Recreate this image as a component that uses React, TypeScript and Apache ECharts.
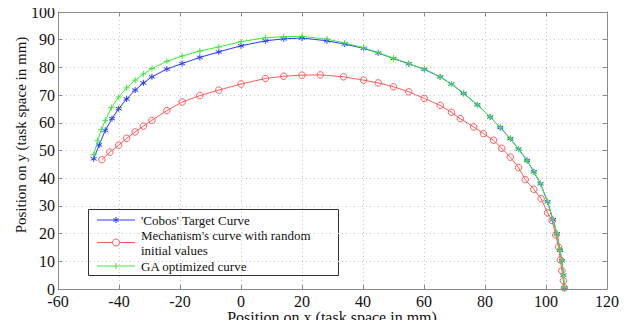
import React, { useEffect, useRef } from "react";
import * as echarts from "echarts";

const xTicks = { min: -60, max: 120, interval: 20 };
const yTicks = { min: 0, max: 100, interval: 10 };

const seriesNames = [
  "'Cobos' Target Curve",
  "Mechanism's curve with random",
  "GA optimized curve",
];

const targetCurve: [number, number][] = [
  [-48.3, 47.0], [-46.5, 52.0], [-44.5, 57.3], [-42.3, 61.5], [-40.1, 65.1],
  [-37.5, 68.6], [-34.7, 71.8], [-32.0, 74.4], [-29.2, 76.6], [-24.3, 79.4],
  [-19.3, 81.4], [-13.5, 83.6], [-7.3, 85.6], [0.0, 87.8], [8.0, 89.6],
  [14.0, 90.3], [20.0, 90.6], [28.2, 89.6], [34.0, 88.4], [40.2, 86.9],
  [45.0, 85.2], [50.0, 83.2], [55.0, 81.3], [60.1, 79.3], [65.3, 76.6],
  [69.0, 74.0], [73.0, 70.6], [77.5, 66.5], [81.7, 62.1], [85.0, 58.3],
  [88.3, 54.3], [91.0, 50.5], [93.8, 46.4], [96.0, 42.3], [98.2, 38.0],
  [100.5, 31.5], [102.3, 25.0], [103.6, 19.9], [104.6, 14.0], [105.2, 10.2],
  [105.7, 5.0], [106.0, 0.4],
];

const randomCurve: [number, number][] = [
  [-45.6, 46.7], [-43.0, 49.4], [-40.1, 51.9], [-37.5, 54.4], [-34.7, 56.7],
  [-32.0, 58.8], [-29.2, 60.9], [-24.3, 64.4], [-19.3, 67.5], [-13.5, 69.8],
  [-7.3, 71.8], [0.0, 74.0], [8.0, 76.0], [14.0, 76.8], [20.0, 77.2],
  [26.0, 77.3], [33.6, 76.6], [40.2, 75.4], [45.0, 74.4], [50.0, 73.0],
  [55.0, 71.2], [60.1, 68.8], [65.3, 66.3], [69.0, 63.8], [71.9, 61.5],
  [76.3, 58.5], [79.5, 56.1], [82.8, 53.7], [85.5, 50.8], [88.3, 47.6],
  [91.0, 43.8], [93.2, 39.5], [96.0, 36.0], [98.4, 32.6], [100.5, 27.5],
  [102.0, 24.7], [103.2, 19.5], [104.1, 15.1], [104.7, 10.5], [105.2, 6.6],
  [105.7, 3.0], [106.0, 0.4],
];

const gaCurve: [number, number][] = [
  [-48.3, 48.5], [-47.0, 53.5], [-45.8, 57.5], [-44.5, 60.9], [-42.5, 65.5],
  [-40.1, 69.3], [-37.5, 72.6], [-34.7, 75.4], [-32.0, 77.6], [-29.2, 79.6],
  [-24.3, 82.2], [-19.3, 84.1], [-13.5, 85.9], [-7.3, 87.4], [0.0, 89.3],
  [8.0, 90.7], [14.0, 91.1], [20.0, 91.2], [28.2, 90.2], [34.0, 88.8],
  [40.2, 87.1], [45.0, 85.3], [50.0, 83.3], [55.0, 81.3], [60.1, 79.3],
  [65.3, 76.6], [69.0, 74.0], [73.0, 70.6], [77.5, 66.5], [81.7, 62.1],
  [85.0, 58.3], [88.3, 54.3], [91.0, 50.5], [93.8, 46.4], [96.0, 42.3],
  [98.2, 38.0], [100.5, 31.5], [102.3, 25.0], [103.6, 19.9], [104.6, 14.0],
  [105.2, 10.2], [105.7, 5.0], [106.0, 0.4],
];

const BLUE = "#2a3cff";
const RED = "#ff5a5a";
const GREEN = "#3ee83e";
const FONT = "'Liberation Serif', 'Times New Roman', serif";

const STAR = "path://M0,-10L0,10M-8.66,-5L8.66,5M-8.66,5L8.66,-5";
const PLUS = "path://M0,-10L0,10M-10,0L10,0";

export default function App() {
  const ref = useRef<HTMLDivElement>(null);
  useEffect(() => {
    if (!ref.current) return;
    const chart = echarts.init(ref.current, undefined, { renderer: "svg" });
    const axisLineStyle = { color: "#8a8a8a", width: 1 };
    const lx1 = 97, lx2 = 135, lmid = 116, tx = 141;
    const legendFont = `13px ${FONT}`;
    chart.setOption({
      animation: false,
      backgroundColor: "#ffffff",
      grid: { left: 58, right: 21, top: 12, bottom: 39, containLabel: false },
      xAxis: [
        {
          type: "value",
          min: xTicks.min,
          max: xTicks.max,
          interval: xTicks.interval,
          axisLine: { show: true, onZero: false, lineStyle: axisLineStyle },
          axisTick: { show: true, inside: true, length: 4, lineStyle: axisLineStyle },
          axisLabel: { color: "#111", fontFamily: FONT, fontSize: 16, lineHeight: 12, margin: 6 },
          splitLine: { show: true, lineStyle: { type: [1, 3], color: "#c8c8c8" } },
        },
        {
          type: "value",
          position: "top",
          min: xTicks.min,
          max: xTicks.max,
          interval: xTicks.interval,
          axisLine: { show: true, onZero: false, lineStyle: axisLineStyle },
          axisTick: { show: true, inside: true, length: 4, lineStyle: axisLineStyle },
          axisLabel: { show: false },
          splitLine: { show: false },
        },
      ],
      yAxis: [
        {
          type: "value",
          min: yTicks.min,
          max: yTicks.max,
          interval: yTicks.interval,
          axisLine: { show: true, onZero: false, lineStyle: axisLineStyle },
          axisTick: { show: true, inside: true, length: 4, lineStyle: axisLineStyle },
          axisLabel: { color: "#111", fontFamily: FONT, fontSize: 16, lineHeight: 12, margin: 3 },
          splitLine: { show: true, lineStyle: { type: [1, 3], color: "#c8c8c8" } },
        },
        {
          type: "value",
          position: "right",
          min: yTicks.min,
          max: yTicks.max,
          interval: yTicks.interval,
          axisLine: { show: true, onZero: false, lineStyle: axisLineStyle },
          axisTick: { show: true, inside: true, length: 4, lineStyle: axisLineStyle },
          axisLabel: { show: false },
          splitLine: { show: false },
        },
      ],
      series: [
        {
          name: seriesNames[0],
          type: "line",
          data: targetCurve,
          symbol: STAR,
          symbolSize: 6,
          showAllSymbol: true,
          lineStyle: { color: BLUE, width: 1 },
          itemStyle: { color: "rgba(0,0,0,0)", borderColor: BLUE, borderWidth: 1 },
          z: 2,
        },
        {
          name: seriesNames[1],
          type: "line",
          data: randomCurve,
          symbol: "circle",
          symbolSize: 6.5,
          showAllSymbol: true,
          lineStyle: { color: RED, width: 1 },
          itemStyle: { color: "rgba(0,0,0,0)", borderColor: RED, borderWidth: 1 },
          z: 3,
        },
        {
          name: seriesNames[2],
          type: "line",
          data: gaCurve,
          symbol: PLUS,
          symbolSize: 6,
          showAllSymbol: true,
          lineStyle: { color: GREEN, width: 1 },
          itemStyle: { color: "rgba(0,0,0,0)", borderColor: GREEN, borderWidth: 1 },
          z: 4,
        },
      ],
      graphic: [
        {
          type: "text",
          x: 21,
          y: 135,
          rotation: Math.PI / 2,
          style: {
            text: "Position on y (task space in mm)",
            x: 0,
            y: 0,
            textAlign: "center",
            verticalAlign: "middle",
            fill: "#111",
            font: `15px ${FONT}`,
          },
        },
        {
          type: "text",
          x: 332,
          y: 317.5,
          style: {
            text: "Position on x (task space in mm)",
            x: 0,
            y: 0,
            textAlign: "center",
            verticalAlign: "middle",
            lineHeight: 14,
            fill: "#111",
            font: `16px ${FONT}`,
          },
        },
        {
          type: "group",
          z: 100,
          children: [
            {
              type: "rect",
              shape: { x: 88.5, y: 209.5, width: 250, height: 66 },
              style: { fill: "#ffffff", stroke: "#333", lineWidth: 1 },
            },
            { type: "line", shape: { x1: lx1, y1: 220, x2: lx2, y2: 220 }, style: { stroke: BLUE, lineWidth: 1 } },
            { type: "line", shape: { x1: lmid, y1: 217, x2: lmid, y2: 223 }, style: { stroke: BLUE, lineWidth: 1 } },
            { type: "line", shape: { x1: lmid - 2.6, y1: 218.5, x2: lmid + 2.6, y2: 221.5 }, style: { stroke: BLUE, lineWidth: 1 } },
            { type: "line", shape: { x1: lmid - 2.6, y1: 221.5, x2: lmid + 2.6, y2: 218.5 }, style: { stroke: BLUE, lineWidth: 1 } },
            { type: "line", shape: { x1: lx1, y1: 242.5, x2: lx2, y2: 242.5 }, style: { stroke: RED, lineWidth: 1 } },
            { type: "circle", shape: { cx: lmid, cy: 242.5, r: 3.5 }, style: { fill: "#ffffff", stroke: RED, lineWidth: 1 } },
            { type: "line", shape: { x1: lx1, y1: 266, x2: lx2, y2: 266 }, style: { stroke: GREEN, lineWidth: 1 } },
            { type: "line", shape: { x1: lmid, y1: 263, x2: lmid, y2: 269 }, style: { stroke: GREEN, lineWidth: 1 } },
            {
              type: "text",
              style: { text: seriesNames[0], x: tx, y: 220, verticalAlign: "middle", fill: "#111", font: legendFont },
            },
            {
              type: "text",
              style: { text: seriesNames[1], x: tx, y: 235, verticalAlign: "middle", fill: "#111", font: legendFont },
            },
            {
              type: "text",
              style: { text: "initial values", x: tx, y: 250, verticalAlign: "middle", fill: "#111", font: legendFont },
            },
            {
              type: "text",
              style: { text: seriesNames[2], x: tx, y: 266, verticalAlign: "middle", fill: "#111", font: legendFont },
            },
          ],
        },
      ],
    });
    return () => chart.dispose();
  }, []);
  return <div ref={ref} style={{ width: 628, height: 328, margin: -8 }} />;
}
